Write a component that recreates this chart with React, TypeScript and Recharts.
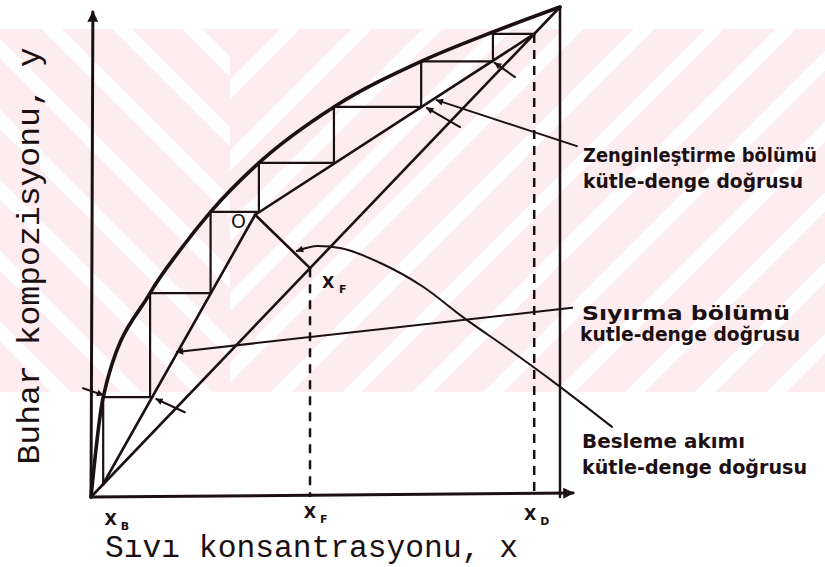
import React from 'react';
import { ComposedChart, Line, XAxis, YAxis } from 'recharts';

type Pt = { x: number; y: number };

const ink = '#1c1012';
const noteFont = '"DejaVu Sans", sans-serif';
const typeFont = '"Liberation Mono", monospace';

// compositions (mole fraction of the light component)
const xB = 0.025;
const xF = 0.467;
const xD = 0.945;
// O: where the enriching, stripping and feed lines meet
const oX = 0.35;
const oY = 0.576;

// equilibrium curve
const eqX = [0, 0.026, 0.126, 0.19, 0.255, 0.358, 0.518, 0.704, 0.857, 1];
const eqY = [0, 0.204, 0.416, 0.504, 0.582, 0.682, 0.796, 0.889, 0.949, 1];

// plate steps: vapour level of each plate and the liquid on the curve
const plateY = [0.945, 0.889, 0.796, 0.682, 0.582, 0.416, 0.204];
const plateX = [0.857, 0.704, 0.518, 0.358, 0.255, 0.126, 0.026];

// leader lines of the notes on the right
const enrichLeaderX = [1.036, 0.737];
const enrichLeaderY = [0.716, 0.81];
const stripLeaderX = [1.026, 0.183];
const stripLeaderY = [0.386, 0.296];
const feedLeaderX = [0.439, 0.484, 0.531, 0.616, 0.708, 0.793, 0.893, 0.989, 1.111];
const feedLeaderY = [0.502, 0.512, 0.508, 0.478, 0.429, 0.367, 0.3, 0.233, 0.143];

// short arrows at the plate corners
const cornerArrowX = [[-0.017, 0.026], [0.2, 0.139], [0.787, 0.716], [0.904, 0.861]];
const cornerArrowY = [[0.222, 0.208], [0.173, 0.2], [0.755, 0.794], [0.857, 0.886]];

// axes
const axisEndX = 1.028;
const axisEndY = 0.99;

const xTicks = [xB, xF, xD];
const xTickSubs = ['B', 'F', 'D'];

const pts = (xs: number[], ys: number[]): Pt[] => xs.map((x, i) => ({ x, y: ys[i] }));

const equilibrium = pts(eqX, eqY);
const diagonal = pts([0, 1], [0, 1]);
const enriching = pts([oX, xD], [oY, xD]);
const stripping = pts([xB, oX], [xB, oY]);
const feedLine = pts([oX, xF], [oY, xF]);
const rightEdge = pts([1, 1], [0, 1]);
const dropF = pts([xF, xF], [xF, 0]);
const dropD = pts([xD, xD], [xD, 0]);
const xAxisLine = pts([0, axisEndX], [0, 0.008]);
const yAxisLine = pts([0, 0.004], [0, axisEndY]);

// staircase from xD down to xB
const stairs: Pt[] = [{ x: xD, y: xD }];
plateY.forEach((level, i) => {
  stairs.push({ x: plateX[i], y: level });
  const next = i + 1 < plateY.length ? plateY[i + 1] : plateX[i];
  stairs.push({ x: plateX[i], y: next });
});

const common = {
  dataKey: 'y',
  dot: false,
  activeDot: false,
  isAnimationActive: false,
  legendType: 'none' as const,
  stroke: ink,
  strokeLinecap: 'round' as const,
  strokeLinejoin: 'round' as const,
};

const tickNudge = [
  { dx: 8, dy: 28 },
  { dx: 0, dy: 21 },
  { dx: -4, dy: 23 },
];

function CompTick(props: any) {
  const { x, y, payload } = props;
  const i = xTicks.indexOf(payload.value);
  const n = tickNudge[i] ?? { dx: 0, dy: 24 };
  const cx = x + n.dx;
  return (
    <g>
      <text x={cx} y={y + n.dy} textAnchor="middle" fontFamily={noteFont} fontWeight="bold" fontSize={16} fill={ink}>
        X
      </text>
      <text x={cx + 10} y={y + n.dy + 5} fontFamily={noteFont} fontWeight="bold" fontSize={11} fill={ink}>
        {xTickSubs[i]}
      </text>
    </g>
  );
}

const noteProps = {
  fontFamily: noteFont,
  fontWeight: 'bold' as const,
  fontSize: 19,
  fill: ink,
  lengthAdjust: 'spacingAndGlyphs' as const,
};

const pink = '#fdedf0';

export default function App() {
  return (
    <div style={{ position: 'absolute', left: 0, top: 0, width: 825, height: 567, background: '#fff', overflow: 'hidden' }}>
      {/* faint striped watermark band */}
      <div
        style={{
          position: 'absolute',
          left: 0,
          top: 29,
          width: 230,
          height: 363,
          background: `repeating-linear-gradient(45deg, ${pink} 0px, ${pink} 36px, #ffffff 36px, #ffffff 50px)`,
        }}
      />
      <div
        style={{
          position: 'absolute',
          left: 230,
          top: 29,
          width: 595,
          height: 363,
          background: `repeating-linear-gradient(135deg, ${pink} 0px, ${pink} 36px, #ffffff 36px, #ffffff 50px)`,
        }}
      />
      <svg width={0} height={0} style={{ position: 'absolute' }}>
        <defs>
          <marker id="axisHead" viewBox="0 0 10 10" refX="9" refY="5" markerWidth="15" markerHeight="11" markerUnits="userSpaceOnUse" orient="auto">
            <path d="M0,0 L10,5 L0,10 z" fill={ink} />
          </marker>
          <marker id="leadHead" viewBox="0 0 10 10" refX="9" refY="5" markerWidth="11" markerHeight="7" markerUnits="userSpaceOnUse" orient="auto-start-reverse">
            <path d="M0,0 L10,5 L0,10 z" fill={ink} />
          </marker>
        </defs>
      </svg>
      <div style={{ position: 'absolute', left: 0, top: 0 }}>
        <ComposedChart width={825} height={567} margin={{ top: 7, right: 171.2, bottom: 40, left: 44.1 }}>
          <XAxis
            type="number"
            dataKey="x"
            domain={[-0.1, 1.2]}
            ticks={xTicks}
            interval={0}
            tick={<CompTick />}
            tickLine={false}
            axisLine={false}
            tickSize={0}
            tickMargin={0}
            height={30}
          />
          <YAxis type="number" dataKey="y" domain={[0, 1]} hide />

          <Line {...common} data={xAxisLine} strokeWidth={3} markerEnd="url(#axisHead)" />
          <Line {...common} data={yAxisLine} strokeWidth={3} markerEnd="url(#axisHead)" />

          <Line {...common} data={dropF} strokeWidth={2.5} strokeDasharray="9 7" strokeLinecap="butt" />
          <Line {...common} data={dropD} strokeWidth={2.5} strokeDasharray="9 7" strokeLinecap="butt" />
          <Line {...common} data={rightEdge} strokeWidth={2.5} />

          <Line {...common} data={pts(enrichLeaderX, enrichLeaderY)} strokeWidth={2} markerEnd="url(#leadHead)" />
          <Line {...common} data={pts(stripLeaderX, stripLeaderY)} strokeWidth={2} markerEnd="url(#leadHead)" />
          <Line {...common} data={pts(feedLeaderX, feedLeaderY)} type="monotoneX" strokeWidth={2} markerStart="url(#leadHead)" />
          {cornerArrowX.map((xs, i) => (
            <Line key={i} {...common} data={pts(xs, cornerArrowY[i])} strokeWidth={2} markerEnd="url(#leadHead)" />
          ))}

          <Line {...common} data={diagonal} strokeWidth={2.6} />
          <Line {...common} data={stripping} strokeWidth={2.6} />
          <Line {...common} data={enriching} strokeWidth={2.6} />
          <Line {...common} data={feedLine} strokeWidth={2.6} />
          <Line {...common} data={stairs} strokeWidth={2.2} strokeLinecap="square" strokeLinejoin="miter" />
          <Line {...common} data={equilibrium} type="monotone" strokeWidth={3.6} />

          <text x={231} y={228} fontFamily={noteFont} fontSize={19} fill={ink}>O</text>
          <text x={322} y={288} fontFamily={noteFont} fontWeight="bold" fontSize={16} fill={ink}>X</text>
          <text x={339} y={293} fontFamily={noteFont} fontWeight="bold" fontSize={11} fill={ink}>F</text>

          <text {...noteProps} x={583} y={162} textLength={234}>Zenginleştirme bölümü</text>
          <text {...noteProps} x={583} y={188} textLength={220}>kütle-denge doğrusu</text>
          <text {...noteProps} x={582} y={320} textLength={208}>Sıyırma bölümü</text>
          <text {...noteProps} x={580} y={341} textLength={220}>kutle-denge doğrusu</text>
          <text {...noteProps} x={582} y={448} textLength={163}>Besleme akımı</text>
          <text {...noteProps} x={582} y={474} textLength={225}>kütle-denge doğrusu</text>

          <text x={105} y={557} fontFamily={typeFont} fontSize={31} fill={ink} textLength={413} lengthAdjust="spacingAndGlyphs">
            Sıvı konsantrasyonu, x
          </text>
          <text
            transform="translate(39,256) rotate(-90)"
            textAnchor="middle"
            fontFamily={typeFont}
            fontSize={32}
            fill={ink}
            textLength={417}
            lengthAdjust="spacingAndGlyphs"
          >
            Buhar kompozisyonu, y
          </text>
        </ComposedChart>
      </div>
    </div>
  );
}
